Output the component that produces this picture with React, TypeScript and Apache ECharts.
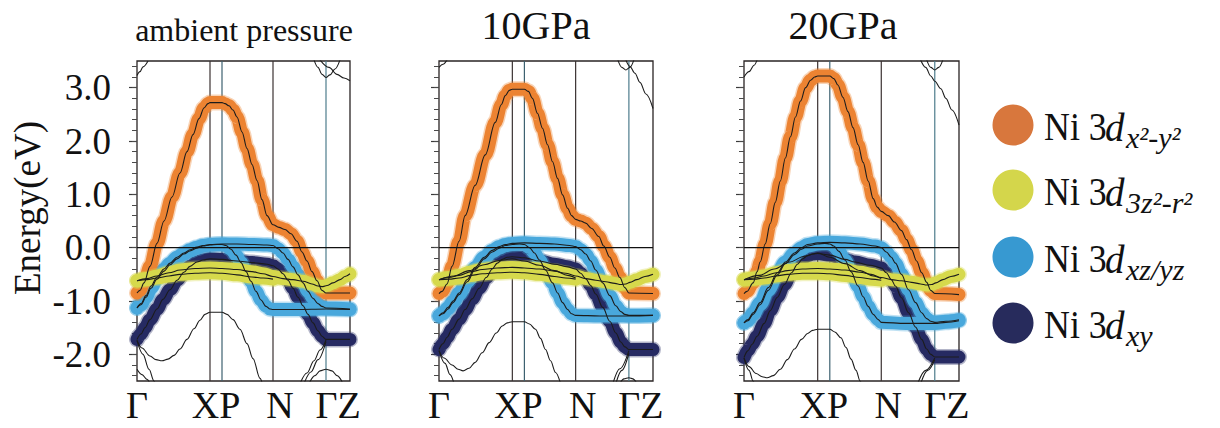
import React, { useEffect, useRef } from 'react';
import * as echarts from 'echarts';

const FONT = '"Liberation Serif", "Times New Roman", serif';

// k-path high-symmetry points (arb. distance): Γ X P N Γ Z
const K_POINTS = [0, 73, 85, 136, 189, 213];
const K_LINE_COLORS = ['#2e2e2e', '#3b3232', '#3d6170', '#3b3232', '#4d7c8c', '#2e2e2e'];
const K_LABEL_POS = [0, 79, 143, 201];
const K_LABELS = ['Γ', 'XP', 'N', 'ΓZ'];
const Y_MIN = -2.5;
const Y_MAX = 3.5;
const Y_MAJOR = [-2, -1, 0, 1, 2, 3];
const Y_MAJOR_LABELS = ['-2.0', '-1.0', '0.0', '1.0', '2.0', '3.0'];
const Y_MINOR = [-2.4, -2.2, -2.0, -1.8, -1.6, -1.4, -1.2, -1.0, -0.8, -0.6, -0.4, -0.2, 0, 0.2, 0.4, 0.6, 0.8, 1.0, 1.2, 1.4, 1.6, 1.8, 2.0, 2.2, 2.4, 2.6, 2.8, 3.0, 3.2, 3.4];

const PANEL_TITLES = ['ambient pressure', '10GPa', '20GPa'];

const ORBITALS = ['x²-y²', '3z²-r²', 'xz/yz', 'xy'];
const BAND_COLORS = ['#EC8332', '#D6D94C', '#49A8DC', '#262A62'];
const LEGEND_COLORS = ['#D8773D', '#D4D64B', '#3799D1', '#272B5C'];

// ---------- ambient pressure ----------
const AMB_DX2Y2 = [[0,-0.85],[3,-0.8],[7,-0.66],[13,-0.35],[20,0.08],[27,0.5],[35,0.95],[43,1.4],[50,1.8],[56,2.12],[62,2.42],[67,2.62],[71,2.7],[73,2.72],[85,2.72],[88,2.7],[92,2.66],[96,2.58],[100,2.45],[105,2.17],[110,1.86],[115,1.56],[120,1.26],[125,0.9],[130,0.6],[136,0.43],[142,0.38],[148,0.34],[154,0.26],[160,0.12],[165,-0.08],[170,-0.25],[175,-0.45],[180,-0.62],[185,-0.8],[189,-0.85],[213,-0.85]];
const AMB_DZ2_UP = [[0,-0.62],[10,-0.58],[20,-0.53],[32,-0.47],[43,-0.42],[58,-0.39],[73,-0.38],[85,-0.39],[100,-0.41],[115,-0.45],[126,-0.49],[136,-0.54],[146,-0.58],[156,-0.6],[166,-0.63],[175,-0.68],[181,-0.72],[186,-0.73],[190,-0.71],[196,-0.66],[203,-0.6],[208,-0.54],[213,-0.49]];
const AMB_DZ2_LOW = [[0,-0.62],[10,-0.6],[20,-0.57],[32,-0.53],[43,-0.5],[58,-0.48],[73,-0.47],[85,-0.48],[100,-0.51],[115,-0.55],[126,-0.57],[136,-0.59]];
const AMB_DXZ_A = [[0,-1.13],[4,-1.05],[9,-0.9],[14,-0.72],[20,-0.55],[27,-0.4],[33,-0.29],[40,-0.18],[47,-0.1],[53,-0.04],[60,0.01],[66,0.04],[73,0.06],[85,0.07],[100,0.07],[115,0.06],[130,0.05],[136,0.04],[141,-0.02],[146,-0.1],[151,-0.22],[156,-0.36],[161,-0.51],[166,-0.66],[171,-0.82],[176,-0.95],[181,-1.05],[185,-1.1],[189,-1.13],[213,-1.15]];
const AMB_DXZ_B = [[0,-1.13],[4,-1.07],[9,-0.93],[14,-0.76],[20,-0.59],[27,-0.44],[33,-0.32],[40,-0.21],[47,-0.12],[53,-0.06],[60,-0.01],[66,0.03],[73,0.05],[80,0.06],[85,0.06],[89,0.04],[94,-0.03],[99,-0.14],[104,-0.28],[109,-0.45],[114,-0.63],[119,-0.82],[124,-0.98],[129,-1.1],[133,-1.15],[136,-1.16],[160,-1.16],[189,-1.15],[213,-1.16]];
const AMB_DXY = [[0,-1.72],[4,-1.62],[8,-1.5],[13,-1.35],[20,-1.15],[26,-0.97],[33,-0.79],[40,-0.61],[47,-0.46],[53,-0.35],[60,-0.27],[66,-0.23],[73,-0.21],[85,-0.22],[100,-0.25],[115,-0.28],[130,-0.31],[136,-0.34],[141,-0.4],[146,-0.49],[151,-0.61],[156,-0.76],[161,-0.93],[166,-1.09],[171,-1.25],[176,-1.41],[181,-1.56],[185,-1.66],[189,-1.72],[213,-1.72]];
const AMB_OTHER = [
  [[0,-1.74],[5,-1.88],[13,-2.03],[19,-2.1],[25,-2.12],[31,-2.09],[37,-2.02],[43,-1.9],[50,-1.72],[57,-1.52],[63,-1.36],[68,-1.25],[73,-1.21],[85,-1.21],[90,-1.25],[96,-1.35],[103,-1.53],[110,-1.8],[116,-2.08],[123,-2.45],[126,-2.6]],
  [[0,-1.74],[6,-2.0],[12,-2.28],[17,-2.5],[19,-2.6]],
  [[0,-2.28],[5,-2.38],[10,-2.47],[13,-2.55]],
  [[163,-2.55],[170,-2.35],[177,-2.12],[183,-1.92],[189,-1.73]],
  [[167,-2.55],[174,-2.33],[181,-2.1],[189,-1.76]],
  [[172,-2.55],[178,-2.4],[183,-2.31],[189,-2.28],[195,-2.31],[200,-2.4],[206,-2.55]],
  [[0,3.23],[3,3.3],[6,3.39],[11,3.5]],
  [[177,3.52],[181,3.38],[185,3.25],[189,3.19],[193,3.24],[198,3.35],[203,3.52]],
  [[183,3.52],[192,3.38],[200,3.25],[207,3.18],[213,3.13]],
];

// ---------- 10 GPa ----------
const P10_DX2Y2 = [[0,-0.86],[3,-0.82],[8,-0.68],[13,-0.35],[20,0.12],[26,0.6],[36,1.17],[46,1.74],[56,2.35],[62,2.68],[66,2.85],[70,2.95],[73,2.97],[85,2.97],[89,2.93],[93,2.8],[98,2.52],[103,2.24],[108,1.93],[113,1.61],[118,1.3],[123,0.99],[128,0.74],[132,0.6],[136,0.53],[141,0.5],[146,0.46],[152,0.36],[159,0.21],[164,0.03],[170,-0.18],[175,-0.38],[180,-0.56],[185,-0.75],[189,-0.85],[213,-0.86]];
const P10_DZ2_UP = [[0,-0.6],[10,-0.56],[20,-0.52],[32,-0.45],[43,-0.41],[58,-0.38],[73,-0.37],[85,-0.38],[100,-0.4],[115,-0.44],[126,-0.48],[136,-0.53],[146,-0.58],[156,-0.61],[166,-0.64],[175,-0.67],[181,-0.69],[186,-0.68],[190,-0.65],[197,-0.6],[205,-0.54],[213,-0.5]];
const P10_DZ2_LOW = [[0,-0.6],[10,-0.59],[20,-0.57],[32,-0.52],[43,-0.49],[58,-0.47],[73,-0.46],[85,-0.47],[100,-0.5],[115,-0.54],[126,-0.57],[136,-0.59]];
const P10_DXZ_A = [[0,-1.28],[4,-1.22],[9,-1.12],[14,-1.0],[20,-0.85],[28,-0.6],[36,-0.37],[45,-0.18],[53,-0.05],[60,0.02],[66,0.06],[73,0.08],[85,0.09],[100,0.08],[115,0.07],[130,0.04],[136,0.02],[141,-0.04],[146,-0.12],[151,-0.25],[156,-0.42],[163,-0.66],[170,-0.9],[176,-1.09],[181,-1.2],[185,-1.25],[189,-1.27],[213,-1.27]];
const P10_DXZ_B = [[0,-1.28],[4,-1.24],[9,-1.15],[14,-1.03],[20,-0.88],[28,-0.64],[36,-0.41],[45,-0.21],[53,-0.08],[60,-0.01],[66,0.04],[73,0.06],[80,0.07],[85,0.06],[90,0.0],[95,-0.1],[100,-0.23],[106,-0.42],[113,-0.66],[118,-0.85],[123,-1.03],[128,-1.16],[132,-1.24],[136,-1.27],[160,-1.28],[189,-1.28],[213,-1.27]];
const P10_DXY = [[0,-1.91],[4,-1.8],[8,-1.68],[13,-1.53],[20,-1.34],[26,-1.16],[33,-0.96],[40,-0.76],[47,-0.56],[53,-0.4],[58,-0.29],[63,-0.22],[68,-0.18],[73,-0.17],[85,-0.19],[100,-0.25],[115,-0.31],[128,-0.36],[136,-0.4],[141,-0.48],[146,-0.58],[151,-0.71],[156,-0.87],[163,-1.12],[170,-1.38],[176,-1.6],[181,-1.77],[185,-1.86],[189,-1.91],[213,-1.91]];
const P10_OTHER = [
  [[0,-0.6],[15,-0.53],[30,-0.43],[45,-0.32],[60,-0.24],[73,-0.21],[85,-0.25],[100,-0.33],[115,-0.43],[128,-0.52],[136,-0.57]],
  [[0,-1.93],[5,-2.07],[13,-2.2],[19,-2.28],[24,-2.31],[30,-2.26],[36,-2.15],[43,-1.97],[50,-1.78],[57,-1.6],[63,-1.47],[68,-1.41],[73,-1.39],[85,-1.39],[90,-1.43],[96,-1.53],[101,-1.7],[106,-1.91],[111,-2.12],[116,-2.34],[121,-2.55]],
  [[0,-1.93],[6,-2.17],[11,-2.38],[15,-2.55]],
  [[173,-2.55],[180,-2.27],[189,-1.93]],
  [[176,-2.55],[182,-2.3],[189,-1.98]],
  [[180,-2.55],[184,-2.46],[189,-2.44],[193,-2.46],[197,-2.55]],
  [[0,3.38],[4,3.44],[8,3.52]],
  [[178,3.52],[182,3.38],[186,3.33],[190,3.38],[194,3.52]],
  [[186,3.52],[190,3.4],[195,3.27],[200,3.1],[206,2.88],[213,2.61]],
];

// ---------- 20 GPa ----------
const P20_DX2Y2 = [[0,-0.86],[3,-0.82],[9,-0.66],[13,-0.45],[16,-0.27],[21,0.07],[26,0.45],[31,0.85],[36,1.25],[41,1.68],[46,2.08],[51,2.45],[56,2.75],[61,3.0],[66,3.14],[70,3.2],[73,3.22],[85,3.22],[89,3.17],[93,3.05],[98,2.82],[103,2.55],[108,2.25],[113,1.93],[118,1.6],[123,1.25],[128,0.92],[132,0.76],[136,0.68],[143,0.6],[149,0.48],[156,0.32],[161,0.15],[166,-0.04],[171,-0.25],[176,-0.47],[181,-0.65],[185,-0.8],[189,-0.86],[213,-0.88]];
const P20_DZ2_UP = [[0,-0.6],[10,-0.57],[20,-0.53],[32,-0.47],[43,-0.43],[58,-0.4],[73,-0.39],[85,-0.4],[100,-0.42],[115,-0.46],[126,-0.5],[136,-0.56],[146,-0.6],[156,-0.62],[166,-0.65],[175,-0.68],[181,-0.7],[186,-0.69],[190,-0.66],[197,-0.6],[205,-0.54],[213,-0.5]];
const P20_DZ2_LOW = [[0,-0.6],[10,-0.59],[20,-0.57],[32,-0.53],[43,-0.5],[58,-0.48],[73,-0.48],[85,-0.49],[100,-0.52],[115,-0.56],[126,-0.59],[136,-0.61]];
const P20_DXZ_A = [[0,-1.41],[4,-1.35],[9,-1.22],[16,-1.03],[24,-0.75],[33,-0.47],[41,-0.27],[50,-0.1],[57,0.0],[63,0.06],[73,0.09],[85,0.1],[100,0.09],[115,0.07],[130,0.03],[136,0.0],[141,-0.08],[146,-0.18],[150,-0.29],[156,-0.5],[163,-0.79],[170,-1.03],[176,-1.22],[181,-1.33],[185,-1.38],[189,-1.4],[200,-1.38],[213,-1.35]];
const P20_DXZ_B = [[0,-1.41],[4,-1.37],[9,-1.25],[16,-1.07],[24,-0.8],[33,-0.51],[41,-0.3],[50,-0.13],[57,-0.03],[63,0.03],[73,0.07],[80,0.08],[85,0.07],[89,0.03],[94,-0.07],[100,-0.23],[106,-0.45],[113,-0.72],[118,-0.92],[123,-1.1],[128,-1.25],[133,-1.35],[136,-1.4],[160,-1.42],[189,-1.42],[200,-1.4],[213,-1.37]];
const P20_DXY = [[0,-2.06],[4,-1.93],[8,-1.81],[13,-1.66],[20,-1.42],[26,-1.18],[33,-0.93],[40,-0.69],[47,-0.47],[53,-0.31],[58,-0.21],[63,-0.15],[68,-0.12],[73,-0.11],[85,-0.14],[100,-0.22],[110,-0.27],[125,-0.33],[136,-0.38],[141,-0.47],[146,-0.6],[150,-0.72],[156,-0.94],[163,-1.22],[170,-1.49],[176,-1.72],[181,-1.9],[185,-2.0],[189,-2.05],[213,-2.05]];
const P20_OTHER = [
  [[0,-0.6],[15,-0.52],[30,-0.4],[45,-0.27],[60,-0.16],[73,-0.1],[85,-0.18],[100,-0.3],[115,-0.43],[128,-0.53],[136,-0.58]],
  [[0,-2.07],[5,-2.23],[12,-2.36],[18,-2.42],[23,-2.44],[29,-2.4],[36,-2.28],[43,-2.1],[50,-1.9],[57,-1.72],[63,-1.61],[68,-1.55],[73,-1.53],[85,-1.53],[90,-1.58],[96,-1.69],[101,-1.87],[106,-2.09],[111,-2.3],[115,-2.5],[117,-2.58]],
  [[0,-2.07],[5,-2.3],[9,-2.5],[11,-2.6]],
  [[172,-2.55],[180,-2.3],[189,-2.07]],
  [[175,-2.55],[182,-2.3],[189,-2.1]],
  [[0,3.2],[5,3.3],[10,3.42],[13,3.52]],
  [[175,3.52],[180,3.38],[185,3.22],[189,3.12],[195,2.98],[200,2.8],[206,2.58],[213,2.3]],
  [[181,3.52],[185,3.38],[189,3.33],[193,3.38],[197,3.52]],
];

const PANELS = [
  { title: PANEL_TITLES[0], titleFont: 32, titleX: 244, titleY: 30, grid: { left: 137, top: 61, width: 213, height: 320 },
    fat: [AMB_DXY, AMB_DXZ_A, AMB_DXZ_B, AMB_DX2Y2, AMB_DZ2_LOW, AMB_DZ2_UP], other: AMB_OTHER },
  { title: PANEL_TITLES[1], titleFont: 40, titleX: 536, titleY: 25, grid: { left: 439, top: 61, width: 214, height: 320 },
    fat: [P10_DXY, P10_DXZ_A, P10_DXZ_B, P10_DX2Y2, P10_DZ2_LOW, P10_DZ2_UP], other: P10_OTHER },
  { title: PANEL_TITLES[2], titleFont: 40, titleX: 843, titleY: 25, grid: { left: 744, top: 61, width: 215, height: 320 },
    fat: [P20_DXY, P20_DXZ_A, P20_DXZ_B, P20_DX2Y2, P20_DZ2_LOW, P20_DZ2_UP], other: P20_OTHER },
];
// orbital index for each fat band entry
const FAT_ORBITAL = [3, 2, 2, 0, 1, 1];

function buildOption() {
  const grid: any[] = [];
  const xAxis: any[] = [];
  const yAxis: any[] = [];
  const series: any[] = [];
  const graphic: any[] = [];

  PANELS.forEach((p, i) => {
    grid.push({ ...p.grid, show: true, borderColor: '#2a2424', borderWidth: 1.3, backgroundColor: 'transparent', containLabel: false });
    xAxis.push({
      gridIndex: i, type: 'value', min: K_POINTS[0], max: K_POINTS[K_POINTS.length - 1],
      axisLine: { show: false, onZero: false }, axisTick: { show: false }, splitLine: { show: false },
      axisLabel: {
        show: true, customValues: K_LABEL_POS, margin: 9, lineHeight: 30,
        formatter: (v: number) => { const j = K_LABEL_POS.indexOf(v); return j >= 0 ? K_LABELS[j] : ''; },
        fontFamily: FONT, fontSize: 38, color: '#111',
      },
    });
    yAxis.push({
      gridIndex: i, type: 'value', min: Y_MIN, max: Y_MAX, position: 'left',
      axisLine: { show: false, onZero: false }, splitLine: { show: false },
      axisTick: { show: true, customValues: Y_MAJOR, length: 8, lineStyle: { color: '#3a3a3a', width: 1.2 } },
      axisLabel: {
        show: i === 0, customValues: Y_MAJOR, margin: 26,
        formatter: (v: number) => { const j = Y_MAJOR.indexOf(v); return j >= 0 ? Y_MAJOR_LABELS[j] : ''; },
        fontFamily: FONT, fontSize: 37, color: '#111',
      },
    });
    yAxis.push({
      gridIndex: i, type: 'value', min: Y_MIN, max: Y_MAX, position: 'left', offset: 0,
      axisLine: { show: false, onZero: false }, splitLine: { show: false },
      axisTick: { show: true, customValues: Y_MINOR, length: 5, lineStyle: { color: '#4a4a4a', width: 1 } },
      axisLabel: { show: false },
    });
    const yi = i * 2;
    // high-symmetry vertical lines
    K_POINTS.slice(1, K_POINTS.length - 1).forEach((k, j) => {
      series.push({
        type: 'line', xAxisIndex: i, yAxisIndex: yi, silent: true, symbol: 'none', z: 1,
        data: [[k, Y_MIN], [k, Y_MAX]],
        lineStyle: { color: K_LINE_COLORS[j + 1], width: 1.2 },
      });
    });
    // fat bands: soft halo + core
    p.fat.forEach((d, j) => {
      const c = BAND_COLORS[FAT_ORBITAL[j]];
      series.push({
        type: 'line', xAxisIndex: i, yAxisIndex: yi, silent: true, symbol: 'none', z: 2, clip: false,
        data: d, smooth: 0.35, smoothMonotone: 'x',
        lineStyle: { color: c, width: 16, opacity: 0.35, cap: 'round', join: 'round' },
      });
      series.push({
        type: 'line', xAxisIndex: i, yAxisIndex: yi, silent: true, symbol: 'none', z: 2, clip: false,
        name: ORBITALS[FAT_ORBITAL[j]],
        data: d, smooth: 0.35, smoothMonotone: 'x',
        lineStyle: { color: c, width: 13, cap: 'round', join: 'round' },
      });
    });
    // thin black band lines
    [...p.fat, ...p.other].forEach((d) => {
      series.push({
        type: 'line', xAxisIndex: i, yAxisIndex: yi, silent: true, symbol: 'none', z: 3,
        data: d, smooth: 0.35, smoothMonotone: 'x',
        lineStyle: { color: '#1c1c1c', width: 1.1 },
      });
    });
    // Fermi level
    series.push({
      type: 'line', xAxisIndex: i, yAxisIndex: yi, silent: true, symbol: 'none', z: 4,
      data: [[K_POINTS[0], 0], [K_POINTS[K_POINTS.length - 1], 0]],
      lineStyle: { color: '#111', width: 1.3 },
    });
    graphic.push({
      type: 'text', x: p.titleX, y: p.titleY, silent: true,
      style: { text: p.title, font: `${p.titleFont}px ${FONT}`, fill: '#111', align: 'center', verticalAlign: 'middle' },
    });
  });

  graphic.push({
    type: 'text', x: 27, y: 208, rotation: Math.PI / 2, silent: true,
    style: { text: 'Energy(eV)', font: `37px ${FONT}`, fill: '#111', align: 'center', verticalAlign: 'middle' },
  });

  const LEG_Y = [125, 190, 257, 323];
  ORBITALS.forEach((o, r) => {
    const cy = LEG_Y[r];
    graphic.push({ type: 'circle', silent: true, shape: { cx: 1013, cy, r: 20.5 }, style: { fill: LEGEND_COLORS[r] } });
    graphic.push({ type: 'text', silent: true, x: 1044, y: cy + 2, scaleX: 0.92,
      style: { text: 'Ni 3', font: `39px ${FONT}`, fill: '#111', align: 'left', verticalAlign: 'middle' } });
    graphic.push({ type: 'text', silent: true, x: 1105, y: cy + 2,
      style: { text: 'd', font: `italic 39px ${FONT}`, fill: '#111', align: 'left', verticalAlign: 'middle' } });
    graphic.push({ type: 'text', silent: true, x: 1126, y: cy + 12,
      style: { text: o, font: `italic 30px ${FONT}`, fill: '#111', align: 'left', verticalAlign: 'middle' } });
  });

  return { animation: false, backgroundColor: '#fff', grid, xAxis, yAxis, series, graphic };
}

export default function App() {
  const ref = useRef<HTMLDivElement>(null);
  useEffect(() => {
    const chart = echarts.init(ref.current!, null, { renderer: 'svg' });
    chart.setOption(buildOption() as any);
    return () => chart.dispose();
  }, []);
  return <div ref={ref} style={{ position: 'fixed', left: 0, top: 0, width: 1220, height: 428, background: '#fff' }} />;
}
